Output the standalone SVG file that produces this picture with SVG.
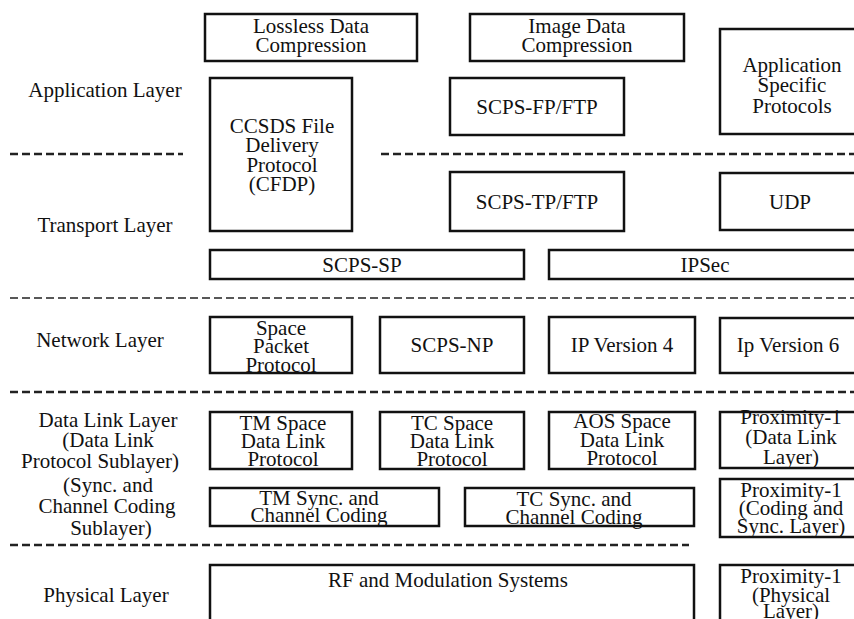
<svg xmlns="http://www.w3.org/2000/svg" width="854" height="619" viewBox="0 0 854 619">
  <style>
    text { font-family: "Liberation Serif", "Times New Roman", serif; font-size: 21px; fill: #111; }
    .c { text-anchor: middle; }
    .box { fill: #fff; stroke: #111; stroke-width: 2.5; }
    .sep { stroke: #222; stroke-width: 1.6; stroke-dasharray: 8 4; fill: none; }
    .sep.bold { stroke-width: 2.4; }
  </style>
  <rect width="854" height="619" fill="#fff"/>

  <!-- layer separators -->
  <g id="separators">
    <line class="sep bold" x1="10" y1="154" x2="183" y2="154"/>
    <line class="sep bold" x1="381" y1="154" x2="854" y2="154"/>
    <line class="sep" x1="10" y1="298" x2="854" y2="298"/>
    <line class="sep bold" x1="10" y1="392" x2="854" y2="392"/>
    <line class="sep bold" x1="10" y1="545" x2="689" y2="545"/>
  </g>

  <!-- layer labels -->
  <g id="layer-labels">
    <text class="c" x="105" y="97">Application Layer</text>
    <text class="c" x="105" y="232">Transport Layer</text>
    <text class="c" x="100" y="347">Network Layer</text>
    <text class="c" x="108" y="427">Data Link Layer</text>
    <text class="c" x="108" y="447">(Data Link</text>
    <text class="c" x="100" y="468">Protocol Sublayer)</text>
    <text class="c" x="108" y="492">(Sync. and</text>
    <text class="c" x="107" y="513">Channel Coding</text>
    <text class="c" x="111" y="535">Sublayer)</text>
    <text class="c" x="106" y="602">Physical Layer</text>
  </g>

  <!-- application layer -->
  <g id="lossless">
    <rect class="box" x="205" y="14" width="212" height="47"/>
    <text class="c" x="311" y="33">Lossless Data</text>
    <text class="c" x="311" y="52">Compression</text>
  </g>
  <g id="image-compression">
    <rect class="box" x="470" y="14" width="214" height="47"/>
    <text class="c" x="577" y="33">Image Data</text>
    <text class="c" x="577" y="52">Compression</text>
  </g>
  <g id="cfdp">
    <rect class="box" x="210" y="78" width="142" height="153"/>
    <text class="c" x="282" y="133">CCSDS File</text>
    <text class="c" x="282" y="152">Delivery</text>
    <text class="c" x="282" y="172">Protocol</text>
    <text class="c" x="282" y="191">(CFDP)</text>
  </g>
  <g id="scps-fp">
    <rect class="box" x="450" y="78" width="174" height="57"/>
    <text class="c" x="537" y="114">SCPS-FP/FTP</text>
  </g>
  <g id="app-specific">
    <rect class="box" x="720" y="29" width="140" height="105"/>
    <text class="c" x="792" y="72">Application</text>
    <text class="c" x="792" y="92">Specific</text>
    <text class="c" x="792" y="113">Protocols</text>
  </g>

  <!-- transport layer -->
  <g id="scps-tp">
    <rect class="box" x="450" y="172" width="174" height="59"/>
    <text class="c" x="537" y="209">SCPS-TP/FTP</text>
  </g>
  <g id="udp">
    <rect class="box" x="720" y="173" width="140" height="57"/>
    <text class="c" x="790" y="209">UDP</text>
  </g>
  <g id="scps-sp">
    <rect class="box" x="210" y="250" width="314" height="29"/>
    <text class="c" x="362" y="272">SCPS-SP</text>
  </g>
  <g id="ipsec">
    <rect class="box" x="549" y="250" width="312" height="29"/>
    <text class="c" x="705" y="272">IPSec</text>
  </g>

  <!-- network layer -->
  <g id="space-packet">
    <rect class="box" x="210" y="317" width="142" height="56"/>
    <text class="c" x="281" y="335">Space</text>
    <text class="c" x="281" y="353">Packet</text>
    <text class="c" x="281" y="372">Protocol</text>
  </g>
  <g id="scps-np">
    <rect class="box" x="380" y="317" width="144" height="56"/>
    <text class="c" x="452" y="352">SCPS-NP</text>
  </g>
  <g id="ipv4">
    <rect class="box" x="549" y="317" width="146" height="56"/>
    <text class="c" x="622" y="352">IP Version 4</text>
  </g>
  <g id="ipv6">
    <rect class="box" x="720" y="318" width="140" height="55"/>
    <text class="c" x="788" y="352">Ip Version 6</text>
  </g>

  <!-- data link layer -->
  <g id="tm-space">
    <rect class="box" x="210" y="412" width="142" height="57"/>
    <text class="c" x="283" y="430">TM Space</text>
    <text class="c" x="283" y="448">Data Link</text>
    <text class="c" x="283" y="466">Protocol</text>
  </g>
  <g id="tc-space">
    <rect class="box" x="380" y="412" width="144" height="57"/>
    <text class="c" x="452" y="430">TC Space</text>
    <text class="c" x="452" y="448">Data Link</text>
    <text class="c" x="452" y="466">Protocol</text>
  </g>
  <g id="aos-space">
    <rect class="box" x="549" y="412" width="146" height="57"/>
    <text class="c" x="622" y="428">AOS Space</text>
    <text class="c" x="622" y="447">Data Link</text>
    <text class="c" x="622" y="465">Protocol</text>
  </g>
  <g id="prox-datalink">
    <rect class="box" x="720" y="412" width="140" height="56"/>
    <text class="c" x="791" y="424">Proximity-1</text>
    <text class="c" x="791" y="444">(Data Link</text>
    <text class="c" x="791" y="464">Layer)</text>
  </g>
  <g id="tm-sync">
    <rect class="box" x="210" y="488" width="229" height="38"/>
    <text class="c" x="319" y="505">TM Sync. and</text>
    <text class="c" x="319" y="522">Channel Coding</text>
  </g>
  <g id="tc-sync">
    <rect class="box" x="465" y="488" width="229" height="38"/>
    <text class="c" x="574" y="506">TC Sync. and</text>
    <text class="c" x="574" y="524">Channel Coding</text>
  </g>
  <g id="prox-coding">
    <rect class="box" x="720" y="479" width="140" height="58"/>
    <text class="c" x="791" y="497">Proximity-1</text>
    <text class="c" x="791" y="515">(Coding and</text>
    <text class="c" x="791" y="533">Sync. Layer)</text>
  </g>

  <!-- physical layer -->
  <g id="rf-modulation">
    <rect class="box" x="210" y="565" width="484" height="70"/>
    <text class="c" x="448" y="587">RF and Modulation Systems</text>
  </g>
  <g id="prox-physical">
    <rect class="box" x="720" y="565" width="140" height="70"/>
    <text class="c" x="791" y="583">Proximity-1</text>
    <text class="c" x="791" y="602">(Physical</text>
    <text class="c" x="791" y="618">Layer)</text>
  </g>
</svg>
